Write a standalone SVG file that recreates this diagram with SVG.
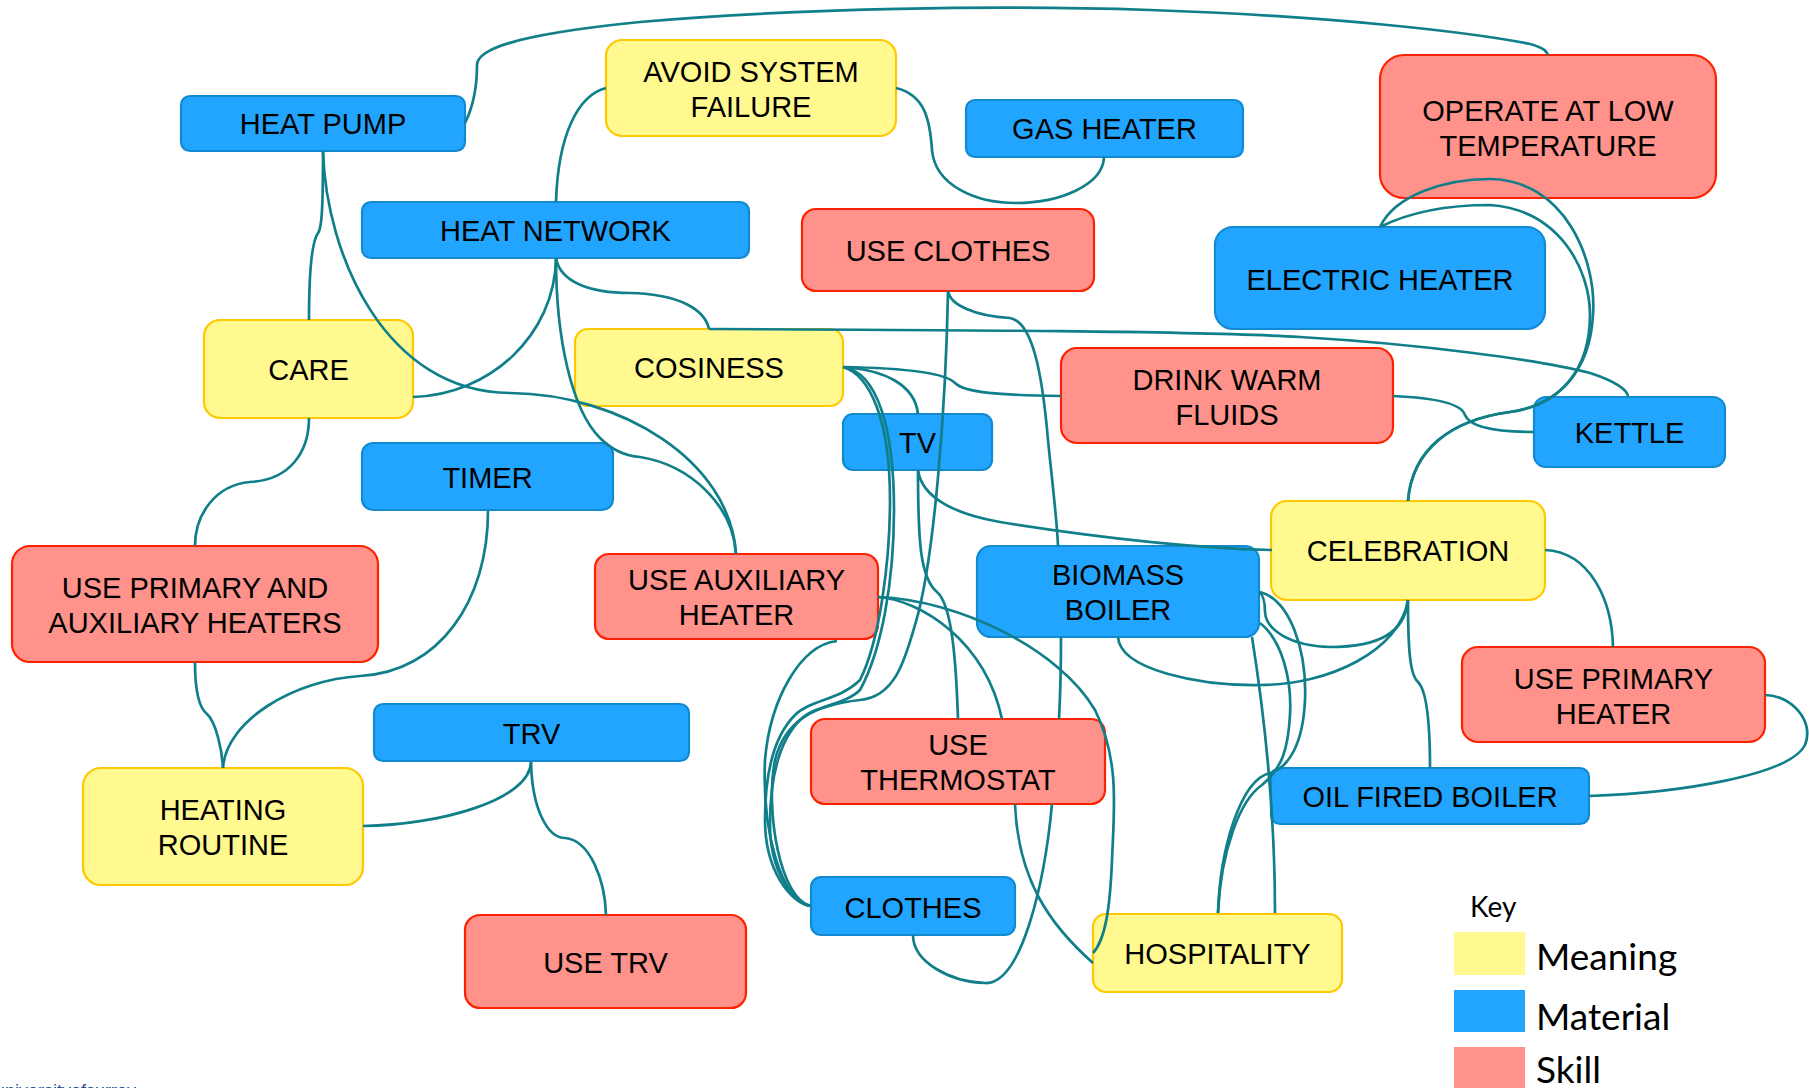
<svg xmlns="http://www.w3.org/2000/svg" width="1809" height="1088" viewBox="0 0 1809 1088">
<style>
.n rect{stroke-width:2.2}
.b rect{fill:#21A5FF;stroke:#118AD2}
.y rect{fill:#FFF98F;stroke:#FFC800}
.r rect{fill:#FF928A;stroke:#FF2200}
.n text{font-family:"Liberation Sans",Arial,sans-serif;font-size:29px;fill:#000;text-anchor:middle}
#edges path{fill:none;stroke:#117F8A;stroke-width:2.7}
.k{font-family:Lato,"Open Sans",sans-serif;fill:#000}
</style>
<rect width="1809" height="1088" fill="#fff"/>
<g id="n-heatpump" class="n b"><rect x="181" y="96" width="284" height="55" rx="9"/><text x="323" y="134">HEAT PUMP</text></g>
<g id="n-avoid" class="n y"><rect x="606" y="40" width="290" height="96" rx="16"/><text x="751" y="81.5">AVOID SYSTEM</text><text x="751" y="116.5">FAILURE</text></g>
<g id="n-gasheater" class="n b"><rect x="966" y="100" width="277" height="57" rx="9"/><text x="1104.5" y="139">GAS HEATER</text></g>
<g id="n-operate" class="n r"><rect x="1380" y="55" width="336" height="143" rx="24"/><text x="1548" y="120.5">OPERATE AT LOW</text><text x="1548" y="155.5">TEMPERATURE</text></g>
<g id="n-heatnetwork" class="n b"><rect x="362" y="202" width="387" height="56" rx="9"/><text x="555.5" y="241">HEAT NETWORK</text></g>
<g id="n-useclothes" class="n r"><rect x="802" y="209" width="292" height="82" rx="14"/><text x="948" y="260.5">USE CLOTHES</text></g>
<g id="n-electric" class="n b"><rect x="1215" y="227" width="330" height="102" rx="18"/><text x="1380" y="289.5">ELECTRIC HEATER</text></g>
<g id="n-care" class="n y"><rect x="204" y="320" width="209" height="98" rx="16"/><text x="308.5" y="380">CARE</text></g>
<g id="n-cosiness" class="n y"><rect x="575" y="329" width="268" height="77" rx="13"/><text x="709" y="378">COSINESS</text></g>
<g id="n-drink" class="n r"><rect x="1061" y="348" width="332" height="95" rx="16"/><text x="1227" y="389.5">DRINK WARM</text><text x="1227" y="424.5">FLUIDS</text></g>
<g id="n-kettle" class="n b"><rect x="1534" y="397" width="191" height="70" rx="12"/><text x="1629.5" y="443">KETTLE</text></g>
<g id="n-tv" class="n b"><rect x="843" y="414" width="149" height="56" rx="10"/><text x="917.5" y="453">TV</text></g>
<g id="n-timer" class="n b"><rect x="362" y="443" width="251" height="67" rx="11"/><text x="487.5" y="488">TIMER</text></g>
<g id="n-celebration" class="n y"><rect x="1271" y="501" width="274" height="99" rx="16"/><text x="1408" y="561">CELEBRATION</text></g>
<g id="n-useprimaux" class="n r"><rect x="12" y="546" width="366" height="116" rx="18"/><text x="195" y="597.5">USE PRIMARY AND</text><text x="195" y="632.5">AUXILIARY HEATERS</text></g>
<g id="n-useaux" class="n r"><rect x="595" y="554" width="283" height="85" rx="14"/><text x="736.5" y="590">USE AUXILIARY</text><text x="736.5" y="625">HEATER</text></g>
<g id="n-biomass" class="n b"><rect x="977" y="546" width="282" height="91" rx="14"/><text x="1118" y="585">BIOMASS</text><text x="1118" y="620">BOILER</text></g>
<g id="n-useprimary" class="n r"><rect x="1462" y="647" width="303" height="95" rx="16"/><text x="1613.5" y="689">USE PRIMARY</text><text x="1613.5" y="724">HEATER</text></g>
<g id="n-trv" class="n b"><rect x="374" y="704" width="315" height="57" rx="9"/><text x="531.5" y="744">TRV</text></g>
<g id="n-thermostat" class="n r"><rect x="811" y="719" width="294" height="85" rx="14"/><text x="958" y="755">USE</text><text x="958" y="790">THERMOSTAT</text></g>
<g id="n-heatingroutine" class="n y"><rect x="83" y="768" width="280" height="117" rx="18"/><text x="223" y="820">HEATING</text><text x="223" y="855">ROUTINE</text></g>
<g id="n-oilfired" class="n b"><rect x="1271" y="768" width="318" height="56" rx="9"/><text x="1430" y="807">OIL FIRED BOILER</text></g>
<g id="n-clothes" class="n b"><rect x="811" y="877" width="204" height="58" rx="10"/><text x="913" y="917.5">CLOTHES</text></g>
<g id="n-hospitality" class="n y"><rect x="1093" y="914" width="249" height="78" rx="13"/><text x="1217.5" y="964">HOSPITALITY</text></g>
<g id="n-usetrv" class="n r"><rect x="465" y="915" width="281" height="93" rx="15"/><text x="605.5" y="973">USE TRV</text></g>
<g id="edges">
<path d="M465,123 C474,105 477,85 477,65 C477,45 540,32 640,22 C800,8 1000,5 1150,10 C1330,16 1470,32 1530,44 C1545,48 1547,52 1548,55"/>
<path d="M323,151 C323,205 322,228 318,233 C313,240 309,265 309,320"/>
<path d="M323,151 C326,255 385,392 510,393 C620,394 730,460 736,554"/>
<path d="M606,88 C578,95 558,135 556,202"/>
<path d="M896,88 C925,95 930,120 932,150 C935,185 975,203 1016,203 C1060,203 1103,185 1104,157"/>
<path d="M556,258 C555,335 490,395 413,397"/>
<path d="M556,258 C560,282 590,293 630,293 C680,294 705,310 709,329"/>
<path d="M556,258 C556,340 572,410 600,438 C612,450 625,456 640,457 C690,465 733,505 736,554"/>
<path d="M709,329 C950,330 1200,331 1300,337 C1420,344 1540,360 1590,373 C1615,381 1628,390 1628,397"/>
<path d="M843,367 C900,368 945,372 955,383 C965,393 1000,395 1061,396"/>
<path d="M843,367 C885,370 915,385 918,414"/>
<path d="M843,367 C870,375 890,420 890,500 C890,560 880,640 860,680 C840,700 810,700 795,715 C775,735 765,770 765,820 C765,870 790,903 811,906"/>
<path d="M843,367 C878,372 894,430 894,510 C894,580 882,650 860,690 C845,705 815,705 800,720 C780,740 770,775 770,825 C770,870 792,903 811,906"/>
<path d="M948,291 C946,400 935,560 915,625 C905,660 895,697 860,700 C815,705 785,720 775,760 C765,810 780,900 811,906"/>
<path d="M837,641 C800,645 770,700 765,760 C762,830 780,900 811,906"/>
<path d="M918,470 C918,540 920,578 937,592 C952,605 956,660 958,719"/>
<path d="M918,470 C922,500 960,515 1000,522 C1100,538 1200,548 1272,550"/>
<path d="M948,291 C950,305 975,316 1010,318 C1032,322 1042,370 1048,440 C1053,490 1057,520 1058,546"/>
<path d="M1061,637 C1061,670 1060,700 1059,719"/>
<path d="M1052,804 C1045,880 1022,985 985,983 C950,982 913,962 913,935"/>
<path d="M878,597 C920,600 985,640 1002,719"/>
<path d="M878,597 C960,600 1060,650 1095,710 C1120,760 1114,810 1112,860 C1110,910 1105,940 1093,953"/>
<path d="M1015,804 C1018,880 1050,925 1093,963"/>
<path d="M1545,550 C1590,552 1612,600 1613,647"/>
<path d="M1408,600 C1405,632 1380,647 1330,647 C1290,646 1266,630 1265,612 C1265,600 1262,594 1259,592"/>
<path d="M1408,600 C1400,650 1330,685 1260,685 C1200,686 1120,670 1118,637"/>
<path d="M1408,600 C1408,650 1410,675 1418,682 C1426,690 1430,720 1430,768"/>
<path d="M1260,592 C1290,600 1307,650 1305,700 C1303,745 1288,768 1270,773 C1240,780 1220,850 1218,913"/>
<path d="M1260,623 C1282,640 1292,680 1290,715 C1288,750 1282,768 1262,785 C1240,800 1221,850 1218,913"/>
<path d="M1252,637 C1262,700 1275,800 1275,913"/>
<path d="M1589,796 C1680,793 1790,775 1805,745 C1815,720 1790,695 1765,695"/>
<path d="M1393,396 C1440,398 1462,405 1465,415 C1470,428 1500,432 1534,432"/>
<path d="M1380,227 C1395,195 1445,179 1490,179 C1565,180 1597,260 1593,315 C1590,370 1560,405 1510,412 C1450,420 1412,450 1408,501"/>
<path d="M1380,227 C1410,212 1450,205 1490,205 C1560,210 1590,270 1590,315 C1590,370 1560,405 1510,412 C1450,420 1412,450 1408,501"/>
<path d="M309,418 C309,452 290,480 250,482 C215,485 195,515 195,546"/>
<path d="M195,662 C195,692 199,708 207,714 C216,722 222,750 223,768"/>
<path d="M488,511 C488,600 440,672 360,676 C295,680 226,720 223,768"/>
<path d="M531,762 C530,800 440,825 363,826"/>
<path d="M531,762 C532,810 548,838 565,838 C590,840 605,880 606,915"/>
</g>
<g id="key">
<text class="k" x="1470" y="917" font-size="28">Key</text>
<rect x="1454" y="932" width="71" height="43" fill="#FFF98F"/>
<rect x="1454" y="990" width="71" height="42" fill="#21A5FF"/>
<rect x="1454" y="1047" width="71" height="45" fill="#FF928A"/>
<text class="k" x="1536" y="970" font-size="37">Meaning</text>
<text class="k" x="1536" y="1030" font-size="37">Material</text>
<text class="k" x="1536" y="1083" font-size="37">Skill</text>
</g>
<text x="-5" y="1097" font-family="Liberation Sans,Arial,sans-serif" font-size="18" fill="#1F4E99">universityofsurrey</text>
</svg>
